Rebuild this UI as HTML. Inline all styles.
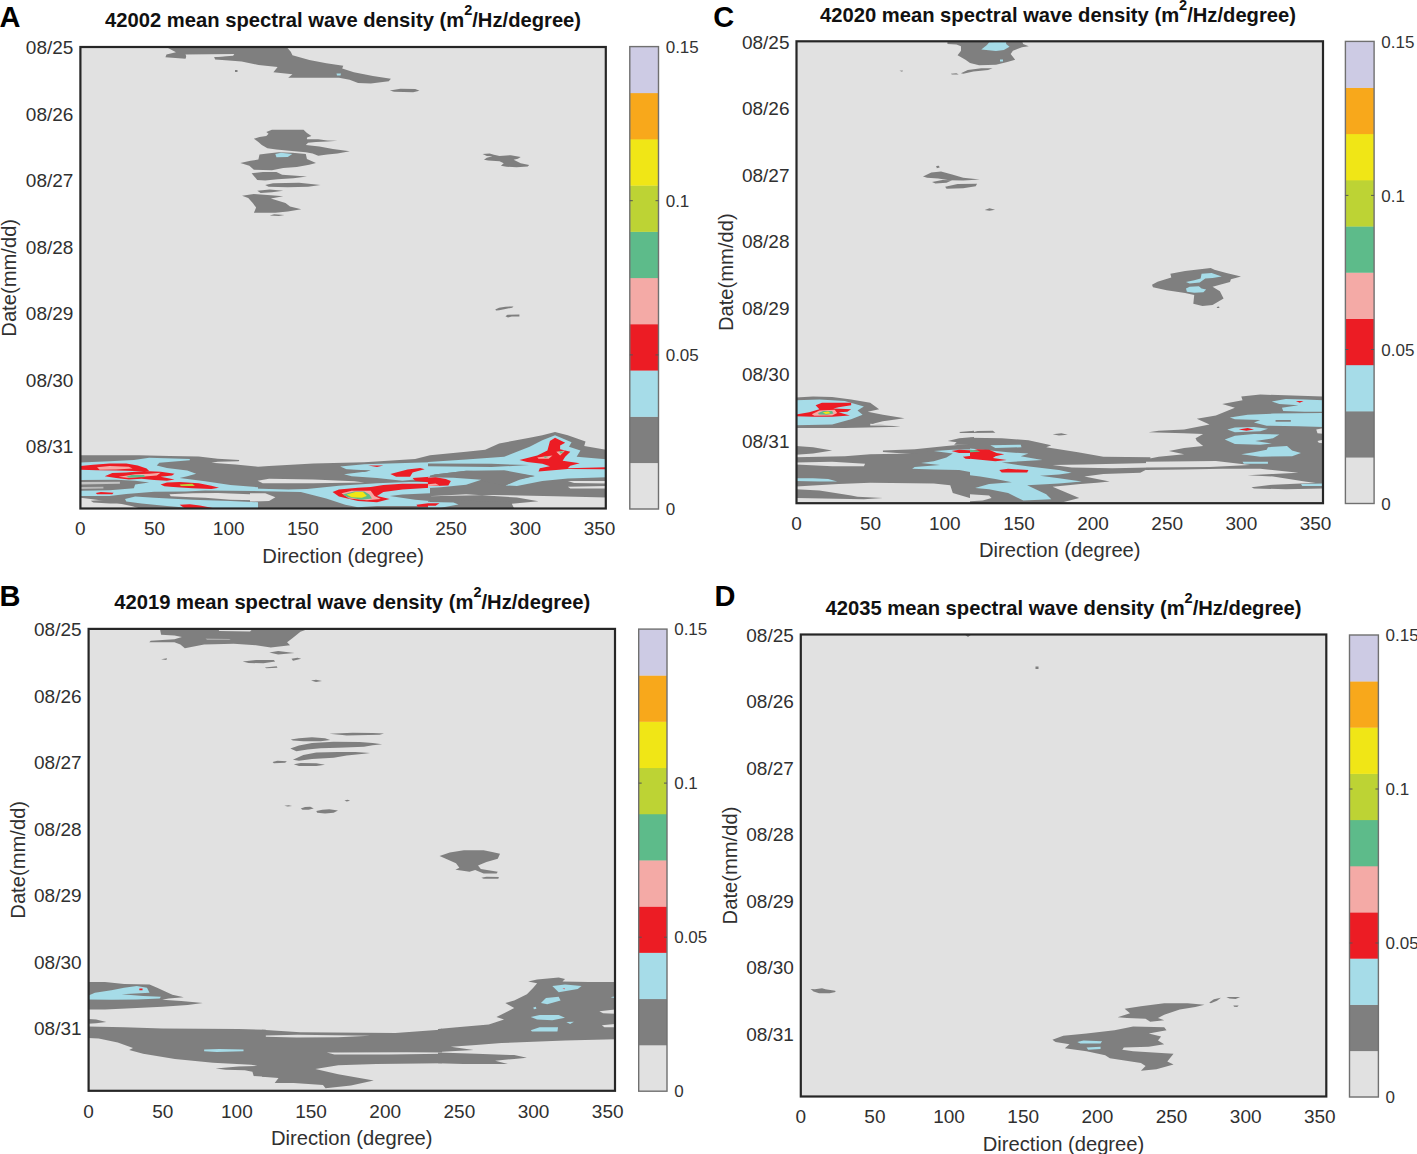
<!DOCTYPE html>
<html><head><meta charset="utf-8"><style>
html,body{margin:0;padding:0;background:#fff;width:1417px;height:1154px;overflow:hidden;position:relative}
svg text{font-family:'Liberation Sans', sans-serif}
</style></head><body>
<svg width="1417" height="1154" viewBox="0 0 1417 1154" style="position:absolute;left:0;top:0">
<rect x="80.4" y="47.0" width="525.4" height="461.5" fill="#e1e1e1"/>
<g clip-path="url(#clipA)">
<path d="M164.98,46.35 L286.09,46.35 L290.75,51.65 L292.45,55.24 L309.38,60.11 L326.32,63.29 L343.26,65.83 L342.2,68.58 L353.85,72.18 L372.9,75.99 L390.9,78.75 L388.78,81.29 L370.79,83.4 L358.08,82.98 L349.61,79.81 L339.03,77.69 L322.09,77.69 L288.21,77.69 L292.45,74.3 L273.39,72.18 L277.62,67.1 L258.57,64.98 L241.63,61.6 L228.93,60.54 L215.16,59.48 L214.11,56.94 L233.16,55.24 L186.58,55.67 L185.52,58.63 L165.41,57.36 L166.47,54.4 L175.99,52.28Z" fill="#7f7f7f"/>
<path d="M185.52,54.4 L234.22,53.97 L233.16,55.67 L216.22,56.94 L197.17,57.36 L186.58,56.94Z" fill="#e1e1e1"/>
<path d="M389.84,90.39 L400.43,88.7 L415.25,89.12 L419.48,90.82 L413.13,92.3 L394.08,91.87Z" fill="#7f7f7f"/>
<path d="M235,70 L237.5,70 L237.5,72 L235,72Z" fill="#7f7f7f"/>
<path d="M336.5,73.5 L341,73.5 L340.5,75.5 L337,75.5Z" fill="#a6dce8"/>
<path d="M266.3,131.94 L271.94,129.68 L303.56,129.68 L306.95,133.07 L311.46,135.89 L306.95,137.58 L306.95,139.28 L318.24,139.28 L327.27,140.41 L337.43,140.75 L327.27,141.54 L315.98,142.1 L308.08,142.66 L305.82,144.92 L319.37,146.62 L332.92,148.88 L349.86,151.36 L337.43,153.39 L327.27,154.52 L318.24,155.65 L312.59,153.39 L305.82,152.26 L294.53,151.13 L276.46,149.44 L267.43,148.31 L261.78,144.92 L258.39,142.1 L253.88,138.71 L259.52,137.02 L266.3,135.89 L268.55,133.63Z" fill="#7f7f7f"/>
<path d="M259.52,154.52 L267.43,153.39 L278.72,152.26 L292.27,152.83 L305.82,153.96 L306.95,159.04 L315.98,162.99 L309.21,164.68 L296.78,166.94 L283.23,168.07 L271.94,170.33 L253.88,169.77 L249.36,165.81 L240.33,162.99 L250.49,160.73 L258.39,159.6Z" fill="#7f7f7f"/>
<path d="M275.33,153.96 L280.98,152.83 L292.27,153.96 L287.75,157.01 L276.46,157.34Z" fill="#a6dce8"/>
<path d="M251.62,173.15 L262.91,172.02 L276.46,172.02 L282.1,174.85 L306.95,176.54 L293.4,178.23 L277.59,179.36 L265.17,180.49 L257.26,179.93 L253.88,175.98Z" fill="#7f7f7f"/>
<path d="M265.17,185.01 L273.07,183.32 L299.04,182.75 L320.5,185.01 L308.08,186.7 L287.75,187.27 L268.55,186.7Z" fill="#7f7f7f"/>
<path d="M257.26,190.65 L269.68,189.53 L283.23,190.65 L271.94,192.35 L260.65,192.91Z" fill="#7f7f7f"/>
<path d="M242.02,195.74 L253.88,194.04 L270.81,195.17 L283.23,196.3 L270.81,198.56 L285.49,203.08 L290.01,206.46 L301.3,209.29 L287.75,211.54 L275.33,212.67 L253.88,212.67 L256.13,207.59 L252.75,203.08 L248.23,197.99Z" fill="#7f7f7f"/>
<path d="M269.68,215.5 L274.2,214.37 L284.36,214.93 L278.72,216.06Z" fill="#7f7f7f"/>
<path d="M482.58,154.11 L489.64,153.41 L493.87,154.82 L499.52,155.88 L510.81,155.17 L520.69,156.94 L517.87,158.7 L513.63,159.76 L520.69,163.29 L529.16,165.05 L527.75,166.46 L516.46,167.17 L506.58,166.82 L500.93,165.76 L503.75,163.29 L499.52,161.17 L488.23,160.47 L483.99,159.76 L486.82,157.64 L492.46,156.23 L486.82,155.88Z" fill="#7f7f7f"/>
<path d="M495.25,309.41 L499.07,307.71 L505.42,306.65 L513.47,306.44 L512.2,307.71 L505.42,308.98 L499.07,310.25 L496.1,310.47Z" fill="#7f7f7f"/>
<path d="M505.42,316.19 L507.54,314.7 L519.41,314.49 L519.41,316.4 L511.78,316.61 L507.97,317.46Z" fill="#7f7f7f"/>
<path d="M78.0,455.24 L138.98,455.24 L169.46,455.88 L198.68,456.51 L217.74,458.8 L239.33,460.07 L238.7,461.34 L217.74,461.85 L211.38,462.87 L235.52,464.39 L258.01,466.68 L269.05,466.04 L313.52,463.5 L364.33,462.23 L415.14,459.05 L430.01,455.24 L466.11,451.76 L485.16,449.85 L499.14,443.5 L529.63,437.78 L542.33,435.24 L555.03,432.07 L567.74,435.24 L585.52,441.6 L584.25,446.04 L607.12,449.85 L607.12,511.46 L428.0,511.46 L78,510Z" fill="#7f7f7f"/>
<path d="M80.54,462.61 L109.76,461.34 L133.89,460.07 L149.14,457.78 L189.79,459.05 L189.79,460.33 L159.3,462.87 L156.76,465.41 L166.92,467.95 L187.25,470.49 L196.14,473.66 L187.25,476.2 L179.63,478.11 L205.03,481.29 L230.44,485.1 L258.01,487.26 L258.01,491.07 L205.03,490.56 L185.98,491.45 L154.22,491.83 L126.27,493.99 L109.76,495.89 L80.54,495.89Z" fill="#a6dce8"/>
<path d="M80.54,480.02 L116.11,479.63 L135.16,480.65 L149.14,482.56 L135.16,484.46 L133.89,488.27 L109.76,490.18 L80.54,490.81Z" fill="#7f7f7f"/>
<path d="M80.54,481.92 L119.92,481.67 L119.92,483.83 L80.54,484.46Z" fill="#c4c4c4"/>
<path d="M80.54,487.0 L103.41,486.75 L103.41,488.53 L80.54,488.91Z" fill="#b8b8b8"/>
<path d="M80.54,497.8 L90.7,499.07 L109.76,501.61 L131.35,506.06 L140.25,508.6 L80.54,509.23Z" fill="#e1e1e1"/>
<path d="M90.7,500.72 L109.76,499.71 L125.0,500.98 L126.27,503.52 L109.76,503.52 L93.24,502.5Z" fill="#7f7f7f"/>
<path d="M125.0,499.07 L135.16,496.53 L154.22,497.8 L192.33,499.71 L230.44,500.98 L258.01,502.25 L258.01,509.23 L205.03,509.23 L166.92,506.06 L141.52,503.52 L126.27,501.61Z" fill="#a6dce8"/>
<path d="M169.46,494.37 L192.33,493.35 L217.74,493.1 L258.01,494.62 L258.01,500.34 L230.44,499.71 L205.03,497.8 L185.98,496.91 L170.73,496.15Z" fill="#e1e1e1"/>
<path d="M80.54,466.04 L93.24,464.77 L109.76,463.5 L126.27,463.5 L137.71,465.41 L146.6,468.58 L149.14,471.12 L135.16,471.12 L116.11,470.49 L97.05,470.23 L80.54,469.85Z" fill="#ec1c24"/>
<path d="M97.05,467.31 L109.76,466.04 L128.81,466.68 L132.62,468.58 L116.11,469.47 L99.6,469.85Z" fill="#f4aaa6"/>
<path d="M104.68,476.2 L112.3,473.03 L126.27,472.39 L144.06,471.12 L160.57,471.76 L174.54,473.66 L172.0,475.57 L160.57,476.84 L166.92,478.11 L174.54,479.38 L166.92,480.65 L154.22,480.02 L141.52,478.74 L128.81,479.38 L116.11,478.11Z" fill="#ec1c24"/>
<path d="M118.65,476.84 L135.16,474.3 L149.14,473.66 L160.57,472.77 L156.76,475.57 L141.52,476.84 L128.81,478.11Z" fill="#f4aaa6"/>
<path d="M126.27,476.84 L131.35,474.93 L144.06,474.93 L145.33,477.09 L128.81,477.86Z" fill="#5dbb8a"/>
<path d="M160.57,484.46 L166.92,482.56 L179.63,481.92 L198.68,483.19 L211.38,485.73 L219.01,487.64 L211.38,488.91 L192.33,488.27 L173.27,487.0 L164.38,486.37Z" fill="#ec1c24"/>
<path d="M179.63,484.46 L192.33,483.83 L194.87,485.99 L180.9,485.99Z" fill="#bdd334"/>
<path d="M95.78,493.1 L100.87,492.08 L113.57,492.72 L112.3,494.37 L97.05,494.37Z" fill="#ec1c24"/>
<path d="M179.63,504.79 L189.79,504.15 L199.95,505.42 L212.65,507.96 L205.03,509.23 L185.98,509.23Z" fill="#ec1c24"/>
<path d="M257.62,480.65 L269.05,478.74 L313.52,479.38 L354.17,481.29 L364.33,482.56 L313.52,483.19 L262.7,483.19Z" fill="#e1e1e1"/>
<path d="M250.0,493.35 L265.24,493.35 L275.41,497.16 L269.05,500.98 L250.0,501.61Z" fill="#e1e1e1"/>
<path d="M340.19,466.42 L364.33,464.14 L430.01,462.23 L430.01,478.11 L402.44,480.65 L377.03,478.11 L351.63,476.2 L344.0,474.3 L364.33,471.76 L370.68,470.49 L346.54,469.22Z" fill="#a6dce8"/>
<path d="M345.27,469.85 L370.68,470.49 L364.33,472.01 L346.54,471.76Z" fill="#7f7f7f"/>
<path d="M250.0,488.27 L269.05,488.91 L288.11,489.54 L307.16,488.91 L338.92,485.73 L377.03,483.19 L408.79,481.92 L430.01,481.92 L430.01,493.35 L402.44,494.62 L389.74,495.89 L415.14,499.71 L430.01,500.98 L430.01,506.06 L377.03,506.06 L357.98,507.33 L345.27,504.79 L326.22,498.43 L300.81,492.08 L275.41,491.45 L250.0,490.81Z" fill="#a6dce8"/>
<path d="M390.37,474.04 L407.52,469.47 L420.22,467.95 L424.67,469.22 L412.6,472.39 L410.06,476.84 L396.09,476.84Z" fill="#ec1c24"/>
<path d="M412.6,478.11 L430.01,476.84 L430.01,482.56 L415.14,480.65Z" fill="#ec1c24"/>
<path d="M332.57,492.08 L338.92,489.54 L357.98,487.64 L370.68,487.0 L383.38,485.1 L402.44,483.83 L415.14,483.83 L430.01,483.83 L430.01,487.64 L402.44,489.54 L383.38,492.08 L377.03,495.89 L389.74,499.07 L377.03,502.25 L357.98,500.98 L338.92,496.53Z" fill="#ec1c24"/>
<path d="M341.46,493.35 L351.63,490.81 L370.68,490.81 L374.49,495.89 L380.84,499.07 L366.87,500.34 L349.09,498.43Z" fill="#f4aaa6"/>
<path d="M342.73,494.62 L354.17,491.45 L364.33,491.45 L369.41,494.62 L371.95,498.43 L361.79,499.71 L347.82,497.16Z" fill="#5dbb8a"/>
<path d="M346.54,494.62 L355.44,492.08 L363.06,492.08 L366.87,495.89 L361.79,497.8 L351.63,497.16Z" fill="#f0e616"/>
<path d="M416.41,504.79 L430.01,502.88 L430.01,506.69 L417.68,506.69Z" fill="#ec1c24"/>
<path d="M368.14,465.41 L383.38,465.41 L377.03,466.93Z" fill="#ec1c24"/>
<path d="M428.0,461.92 L466.11,459.38 L504.22,456.84 L529.63,446.68 L542.33,440.33 L555.03,435.24 L571.55,442.23 L569.01,446.68 L580.44,450.49 L576.63,456.84 L608.39,459.38 L608.39,477.16 L567.74,478.43 L542.33,480.98 L516.92,486.06 L505.49,485.42 L519.46,479.71 L534.71,475.89 L504.22,472.08 L466.11,470.81 L434.35,474.62 L428.0,475.89Z" fill="#a6dce8"/>
<path d="M428.0,463.45 L491.52,463.83 L529.63,465.1 L491.52,467.0 L428.0,466.37Z" fill="#7f7f7f"/>
<path d="M434.35,474.62 L466.11,470.81 L504.22,470.18 L534.71,475.89 L516.92,479.71 L504.22,486.06 L481.35,480.34 L466.11,477.8 L434.35,477.16Z" fill="#7f7f7f"/>
<path d="M428.0,477.16 L453.41,477.8 L481.35,479.71 L466.11,484.79 L440.7,487.33 L428.0,487.96Z" fill="#a6dce8"/>
<path d="M428.0,496.22 L466.11,494.31 L516.92,497.49 L538.52,501.3 L511.84,503.84 L514.38,508.92 L608.39,508.92 L608.39,497.49 L555.03,496.22 L491.52,494.95Z" fill="#e1e1e1"/>
<path d="M428.0,501.3 L466.11,500.67 L510.57,501.94 L511.84,503.84 L509.3,508.92 L428.0,508.92Z" fill="#7f7f7f"/>
<path d="M567.74,480.98 L605.85,480.98 L605.85,483.52 L574.09,482.88Z" fill="#e1e1e1"/>
<path d="M567.74,486.69 L605.85,486.06 L605.85,488.6 L570.28,488.6Z" fill="#e1e1e1"/>
<path d="M428.0,501.94 L453.41,502.57 L458.49,504.48 L440.7,507.65 L428.0,507.65Z" fill="#a6dce8"/>
<path d="M428.0,503.21 L439.43,503.21 L435.62,505.75 L428.0,505.75Z" fill="#ec1c24"/>
<path d="M519.46,460.02 L537.25,455.57 L547.41,450.49 L549.95,440.96 L555.03,437.78 L565.2,442.87 L560.11,445.41 L560.11,449.22 L570.28,451.76 L565.2,456.84 L562.65,460.65 L579.8,463.19 L570.28,465.73 L567.74,468.27 L608.39,467.26 L608.39,469.29 L567.74,468.91 L538.52,471.45 L539.79,468.27 L549.95,466.37 L542.33,463.83 L527.09,461.92Z" fill="#ec1c24"/>
<path d="M537.25,457.47 L552.49,455.57 L548.68,458.74 L538.52,458.74Z" fill="#f4aaa6"/>
<path d="M556.3,451.76 L565.2,450.49 L560.11,455.57Z" fill="#f4aaa6"/>
<path d="M543.6,456.2 L548.68,456.84 L544.87,458.11Z" fill="#5dbb8a"/>
<path d="M558.84,451.12 L563.92,451.76 L560.75,453.66Z" fill="#5dbb8a"/>
<path d="M428.0,477.8 L435.62,477.16 L445.78,479.07 L450.87,480.98 L448.33,485.42 L435.62,486.06 L428.0,486.06Z" fill="#ec1c24"/>
<path d="M428.0,484.15 L435.62,483.52 L439.43,485.42 L428.0,486.06Z" fill="#f4aaa6"/>
</g>
<clipPath id="clipA"><rect x="80.4" y="47.0" width="525.4" height="461.5"/></clipPath>
<rect x="80.4" y="47.0" width="525.4" height="461.5" fill="none" stroke="#262626" stroke-width="2.2"/>
<rect x="629.8" y="462.76" width="28.7" height="46.54" fill="#e1e1e1"/>
<rect x="629.8" y="416.52" width="28.7" height="46.54" fill="#7f7f7f"/>
<rect x="629.8" y="370.28" width="28.7" height="46.54" fill="#a6dce8"/>
<rect x="629.8" y="324.04" width="28.7" height="46.54" fill="#ec1c24"/>
<rect x="629.8" y="277.80" width="28.7" height="46.54" fill="#f4aaa6"/>
<rect x="629.8" y="231.56" width="28.7" height="46.54" fill="#5dbb8a"/>
<rect x="629.8" y="185.32" width="28.7" height="46.54" fill="#bdd334"/>
<rect x="629.8" y="139.08" width="28.7" height="46.54" fill="#f0e616"/>
<rect x="629.8" y="92.84" width="28.7" height="46.54" fill="#f8a81b"/>
<rect x="629.8" y="46.60" width="28.7" height="46.54" fill="#cdcbe4"/>
<rect x="629.8" y="46.6" width="28.7" height="462.4" fill="none" stroke="#707070" stroke-width="1.4"/>
<text x="665.7" y="515.2" font-size="17" fill="#333">0</text>
<line x1="655.5" x2="658.5" y1="354.9" y2="354.9" stroke="#555" stroke-width="1"/>
<line x1="629.8" x2="632.8" y1="354.9" y2="354.9" stroke="#555" stroke-width="1"/>
<text x="665.7" y="361.1" font-size="17" fill="#333">0.05</text>
<line x1="655.5" x2="658.5" y1="200.7" y2="200.7" stroke="#555" stroke-width="1"/>
<line x1="629.8" x2="632.8" y1="200.7" y2="200.7" stroke="#555" stroke-width="1"/>
<text x="665.7" y="206.9" font-size="17" fill="#333">0.1</text>
<text x="665.7" y="52.8" font-size="17" fill="#333">0.15</text>
<text x="73.4" y="54.2" font-size="19" text-anchor="end" fill="#303030">08/25</text>
<text x="73.4" y="120.7" font-size="19" text-anchor="end" fill="#303030">08/26</text>
<text x="73.4" y="187.2" font-size="19" text-anchor="end" fill="#303030">08/27</text>
<text x="73.4" y="253.7" font-size="19" text-anchor="end" fill="#303030">08/28</text>
<text x="73.4" y="320.2" font-size="19" text-anchor="end" fill="#303030">08/29</text>
<text x="73.4" y="386.7" font-size="19" text-anchor="end" fill="#303030">08/30</text>
<text x="73.4" y="453.2" font-size="19" text-anchor="end" fill="#303030">08/31</text>
<text x="80.4" y="535.3" font-size="19" text-anchor="middle" fill="#303030">0</text>
<text x="154.6" y="535.3" font-size="19" text-anchor="middle" fill="#303030">50</text>
<text x="228.7" y="535.3" font-size="19" text-anchor="middle" fill="#303030">100</text>
<text x="302.9" y="535.3" font-size="19" text-anchor="middle" fill="#303030">150</text>
<text x="377.0" y="535.3" font-size="19" text-anchor="middle" fill="#303030">200</text>
<text x="451.1" y="535.3" font-size="19" text-anchor="middle" fill="#303030">250</text>
<text x="525.3" y="535.3" font-size="19" text-anchor="middle" fill="#303030">300</text>
<text x="599.5" y="535.3" font-size="19" text-anchor="middle" fill="#303030">350</text>
<text x="343.1" y="562.5" font-size="20.2" text-anchor="middle" fill="#303030">Direction (degree)</text>
<text transform="translate(16.400000000000006,277.8) rotate(-90)" font-size="20.2" text-anchor="middle" fill="#303030">Date(mm/dd)</text>
<text x="343.1" y="27.1" text-anchor="middle" font-size="20.2" font-weight="bold" fill="#111">42002 mean spectral wave density (m<tspan font-size="14.5" dy="-12">2</tspan><tspan dy="12">/Hz/degree)</tspan></text>
<text x="-0.6" y="26.7" font-size="29" font-weight="bold" fill="#000">A</text>
<rect x="88.6" y="628.9" width="526.4" height="461.9" fill="#e1e1e1"/>
<g clip-path="url(#clipB)">
<path d="M159.64,627.41 L312.28,627.41 L300.42,631.86 L293.01,637.78 L287.08,642.23 L290.05,645.19 L270.78,647.42 L255.96,645.19 L233.73,643.71 L204.1,644.45 L184.83,648.16 L180.39,644.45 L174.46,642.23 L149.26,642.23 L150.75,640.75 L174.46,639.26 L181.87,637.04 L174.46,635.56 L161.12,634.82Z" fill="#7f7f7f"/>
<path d="M218.92,629.63 L251.52,630.08 L250.04,631.56 L218.92,631.11Z" fill="#e1e1e1"/>
<path d="M205.58,638.52 L230.77,638.97 L229.29,640.01 L207.06,640.01Z" fill="#a8a8a8"/>
<path d="M269.3,652.6 L278.19,651.12 L294.49,652.9 L278.19,654.38Z" fill="#7f7f7f"/>
<path d="M242.63,661.49 L255.96,660.01 L273.75,660.01 L275.23,661.49 L263.37,663.27 L248.55,662.98Z" fill="#7f7f7f"/>
<path d="M291.53,658.83 L297.46,657.79 L301.16,658.83 L293.01,660.75Z" fill="#7f7f7f"/>
<path d="M264.85,667.42 L276.71,666.24 L277.45,667.72 L266.34,668.16Z" fill="#7f7f7f"/>
<path d="M161.12,659.27 L167.05,658.23 L166.31,660.01Z" fill="#7f7f7f"/>
<path d="M311,680.5 L316,679.8 L322,681 L316,682Z" fill="#7f7f7f"/>
<path d="M329.32,733.86 L352.72,732.82 L372.65,733.0 L384.0,733.43 L379.58,734.73 L346.66,735.42 L342.32,734.9Z" fill="#7f7f7f"/>
<path d="M290.76,739.5 L298.99,738.2 L311.99,737.33 L324.99,738.2 L330.19,739.93 L320.66,741.23 L303.33,741.23 L292.93,740.62Z" fill="#7f7f7f"/>
<path d="M290.33,748.6 L298.99,745.56 L311.99,742.96 L333.66,741.66 L359.65,742.1 L372.65,742.96 L382.18,744.26 L372.65,745.13 L363.99,746.86 L337.99,747.73 L320.66,748.16 L307.66,749.46 L296.4,751.2Z" fill="#7f7f7f"/>
<path d="M292.93,759.86 L303.33,755.1 L316.33,752.5 L337.99,752.06 L355.32,752.06 L370.05,752.93 L363.99,753.8 L346.66,755.53 L333.66,757.69 L311.99,758.99 L298.99,760.73Z" fill="#7f7f7f"/>
<path d="M272.56,762.03 L277.33,760.73 L286.86,761.16 L285.13,762.63 L273.86,763.15Z" fill="#7f7f7f"/>
<path d="M293.8,764.19 L300.73,762.89 L316.33,763.33 L324.99,764.63 L316.33,765.93 L298.99,765.93Z" fill="#7f7f7f"/>
<path d="M284.26,805.79 L288.6,805.36 L292.06,805.96 L287.73,806.48Z" fill="#7f7f7f"/>
<path d="M300.73,808.39 L305.06,807.09 L310.26,806.66 L313.73,808.39 L308.53,809.69 L302.46,809.69Z" fill="#7f7f7f"/>
<path d="M316.33,810.99 L322.39,809.69 L329.32,809.25 L337.99,810.55 L333.66,812.72 L324.99,813.59 L317.19,812.72Z" fill="#7f7f7f"/>
<path d="M344.49,800.42 L347.52,799.72 L350.12,800.76 L346.66,801.46Z" fill="#7f7f7f"/>
<path d="M439.6,855.89 L449.76,852.5 L463.88,850.25 L483.64,850.25 L492.11,851.94 L500.02,853.63 L497.76,858.72 L486.47,862.1 L478.0,865.49 L480.82,868.88 L497.76,871.7 L496.63,873.4 L483.64,873.4 L475.17,870.01 L469.53,871.7 L461.06,870.57 L455.41,869.73 L459.36,867.75 L455.97,863.23 L446.94,859.28Z" fill="#7f7f7f"/>
<path d="M481.38,877.63 L486.47,876.78 L498.89,877.07 L498.32,878.76 L483.64,878.76Z" fill="#7f7f7f"/>
<path d="M86.0,982.07 L105.05,982.07 L124.11,983.97 L149.52,984.61 L157.14,987.78 L172.38,994.77 L183.82,997.31 L168.57,998.58 L162.22,999.85 L181.27,1001.12 L202.87,1003.03 L187.63,1004.93 L162.22,1006.84 L136.81,1008.11 L105.05,1009.38 L86.0,1009.38Z" fill="#7f7f7f"/>
<path d="M86.0,996.68 L94.89,992.87 L111.41,990.33 L124.11,987.78 L136.81,985.88 L146.98,987.78 L149.52,992.87 L121.57,994.14 L143.16,996.04 L160.95,996.68 L159.68,998.58 L136.81,999.47 L111.41,999.85 L86.0,999.47Z" fill="#a6dce8"/>
<path d="M139.35,988.42 L142.53,988.42 L142.53,990.33 L139.35,990.33Z" fill="#ec1c24"/>
<path d="M86.0,1018.91 L96.16,1019.54 L106.33,1022.08 L96.16,1023.35 L86.0,1023.99Z" fill="#7f7f7f"/>
<path d="M86.0,1026.53 L124.11,1027.16 L162.22,1028.43 L238.44,1029.07 L266.01,1029.71 L266.01,1076.71 L253.68,1076.07 L252.41,1071.63 L244.79,1070.36 L225.74,1069.72 L215.57,1068.45 L238.44,1066.54 L257.49,1065.91 L251.14,1064.64 L213.03,1062.73 L174.92,1058.92 L143.16,1053.84 L129.19,1050.03 L133.0,1048.12 L117.76,1042.41 L98.7,1038.6 L86.0,1037.96Z" fill="#7f7f7f"/>
<path d="M204.14,1049.4 L219.38,1049.01 L243.52,1049.4 L243.52,1051.3 L216.84,1051.94 L204.14,1051.3Z" fill="#a6dce8"/>
<path d="M262.0,1029.71 L300.11,1032.25 L395.38,1032.88 L439.85,1029.71 L442.01,1028.43 L442.01,1063.37 L376.33,1064.0 L338.22,1065.27 L315.35,1069.09 L338.22,1074.17 L373.79,1080.52 L350.92,1085.6 L325.52,1088.14 L322.98,1084.96 L293.76,1083.06 L274.7,1083.06 L278.51,1077.98 L262.0,1076.71Z" fill="#7f7f7f"/>
<path d="M265.81,1035.42 L297.57,1034.79 L369.98,1035.8 L338.22,1037.33 L296.3,1037.58 L265.81,1036.69Z" fill="#e1e1e1"/>
<path d="M326.79,1052.57 L338.22,1052.57 L406.82,1052.32 L442.39,1052.57 L442.39,1053.84 L389.03,1054.48 L334.41,1054.48Z" fill="#e1e1e1"/>
<path d="M438.0,1029.07 L457.05,1027.16 L488.81,1024.62 L504.06,1019.54 L496.43,1017.0 L504.06,1013.19 L514.22,1008.11 L505.33,1003.03 L514.22,1000.49 L526.92,994.14 L533.27,987.78 L537.09,983.34 L528.19,981.43 L537.09,979.53 L558.68,977.62 L565.03,978.89 L562.49,981.43 L587.9,982.07 L615.85,982.07 L615.85,1039.23 L565.03,1040.5 L501.52,1043.04 L476.11,1044.95 L450.7,1046.85 L473.57,1050.03 L450.7,1051.3 L438.0,1051.94Z" fill="#7f7f7f"/>
<path d="M438.0,1052.57 L476.11,1053.84 L514.22,1055.11 L526.92,1057.65 L514.22,1058.92 L495.16,1060.83 L507.87,1064.0 L463.41,1064.0 L438.0,1063.37Z" fill="#7f7f7f"/>
<path d="M599.33,1011.29 L615.85,1009.38 L615.85,1013.83 L603.14,1013.19Z" fill="#e1e1e1"/>
<path d="M601.87,1025.26 L615.85,1023.99 L615.85,1027.16 L604.41,1027.16Z" fill="#e1e1e1"/>
<path d="M552.33,985.88 L565.03,984.61 L581.55,985.88 L577.74,989.05 L558.68,992.23Z" fill="#a6dce8"/>
<path d="M540.9,1003.03 L545.98,997.95 L558.68,996.68 L560.59,1000.49 L547.25,1004.3Z" fill="#a6dce8"/>
<path d="M533.27,1007.47 L535.82,1006.84 L536.45,1008.74 L533.91,1009.13Z" fill="#a6dce8"/>
<path d="M530.73,1017.0 L539.63,1015.1 L558.68,1015.1 L565.03,1017.64 L552.33,1020.18 L537.09,1019.54Z" fill="#a6dce8"/>
<path d="M566.3,1022.08 L573.92,1021.83 L570.11,1023.99Z" fill="#a6dce8"/>
<path d="M530.73,1030.34 L539.63,1027.16 L558.05,1027.16 L557.41,1031.61 L532.0,1031.61Z" fill="#a6dce8"/>
<path d="M562.49,988.42 L565.03,988.42 L564.4,989.31Z" fill="#ec1c24"/>
<path d="M610.76,997.31 L615.85,996.04 L615.85,998.58Z" fill="#a6dce8"/>
</g>
<clipPath id="clipB"><rect x="88.6" y="628.9" width="526.4" height="461.9"/></clipPath>
<rect x="88.6" y="628.9" width="526.4" height="461.9" fill="none" stroke="#262626" stroke-width="2.2"/>
<rect x="638.7" y="1044.99" width="28.3" height="46.51" fill="#e1e1e1"/>
<rect x="638.7" y="998.78" width="28.3" height="46.51" fill="#7f7f7f"/>
<rect x="638.7" y="952.57" width="28.3" height="46.51" fill="#a6dce8"/>
<rect x="638.7" y="906.36" width="28.3" height="46.51" fill="#ec1c24"/>
<rect x="638.7" y="860.15" width="28.3" height="46.51" fill="#f4aaa6"/>
<rect x="638.7" y="813.94" width="28.3" height="46.51" fill="#5dbb8a"/>
<rect x="638.7" y="767.73" width="28.3" height="46.51" fill="#bdd334"/>
<rect x="638.7" y="721.52" width="28.3" height="46.51" fill="#f0e616"/>
<rect x="638.7" y="675.31" width="28.3" height="46.51" fill="#f8a81b"/>
<rect x="638.7" y="629.10" width="28.3" height="46.51" fill="#cdcbe4"/>
<rect x="638.7" y="629.1" width="28.3" height="462.1" fill="none" stroke="#707070" stroke-width="1.4"/>
<text x="674.2" y="1097.4" font-size="17" fill="#333">0</text>
<line x1="664.0" x2="667.0" y1="937.2" y2="937.2" stroke="#555" stroke-width="1"/>
<line x1="638.7" x2="641.7" y1="937.2" y2="937.2" stroke="#555" stroke-width="1"/>
<text x="674.2" y="943.4" font-size="17" fill="#333">0.05</text>
<line x1="664.0" x2="667.0" y1="783.1" y2="783.1" stroke="#555" stroke-width="1"/>
<line x1="638.7" x2="641.7" y1="783.1" y2="783.1" stroke="#555" stroke-width="1"/>
<text x="674.2" y="789.3" font-size="17" fill="#333">0.1</text>
<text x="674.2" y="635.3" font-size="17" fill="#333">0.15</text>
<text x="81.6" y="636.1" font-size="19" text-anchor="end" fill="#303030">08/25</text>
<text x="81.6" y="702.6" font-size="19" text-anchor="end" fill="#303030">08/26</text>
<text x="81.6" y="769.1" font-size="19" text-anchor="end" fill="#303030">08/27</text>
<text x="81.6" y="835.6" font-size="19" text-anchor="end" fill="#303030">08/28</text>
<text x="81.6" y="902.1" font-size="19" text-anchor="end" fill="#303030">08/29</text>
<text x="81.6" y="968.6" font-size="19" text-anchor="end" fill="#303030">08/30</text>
<text x="81.6" y="1035.1" font-size="19" text-anchor="end" fill="#303030">08/31</text>
<text x="88.6" y="1117.6" font-size="19" text-anchor="middle" fill="#303030">0</text>
<text x="162.8" y="1117.6" font-size="19" text-anchor="middle" fill="#303030">50</text>
<text x="236.9" y="1117.6" font-size="19" text-anchor="middle" fill="#303030">100</text>
<text x="311.0" y="1117.6" font-size="19" text-anchor="middle" fill="#303030">150</text>
<text x="385.2" y="1117.6" font-size="19" text-anchor="middle" fill="#303030">200</text>
<text x="459.4" y="1117.6" font-size="19" text-anchor="middle" fill="#303030">250</text>
<text x="533.5" y="1117.6" font-size="19" text-anchor="middle" fill="#303030">300</text>
<text x="607.7" y="1117.6" font-size="19" text-anchor="middle" fill="#303030">350</text>
<text x="351.8" y="1144.8" font-size="20.2" text-anchor="middle" fill="#303030">Direction (degree)</text>
<text transform="translate(24.599999999999994,859.8) rotate(-90)" font-size="20.2" text-anchor="middle" fill="#303030">Date(mm/dd)</text>
<text x="352.3" y="609.0" text-anchor="middle" font-size="20.2" font-weight="bold" fill="#111">42019 mean spectral wave density (m<tspan font-size="14.5" dy="-12">2</tspan><tspan dy="12">/Hz/degree)</tspan></text>
<text x="-0.6" y="606.1" font-size="29" font-weight="bold" fill="#000">B</text>
<rect x="796.5" y="41.3" width="526.5" height="461.9" fill="#e1e1e1"/>
<g clip-path="url(#clipC)">
<path d="M947.43,40.52 L1021.95,40.52 L1023.08,43.9 L1028.73,46.16 L1021.95,47.29 L1012.92,50.68 L1010.66,54.07 L1015.18,59.71 L1007.27,61.97 L995.98,64.79 L979.04,65.36 L970.01,63.1 L965.49,59.71 L957.59,55.2 L960.98,50.68 L960.98,46.16 L956.46,44.47 L947.43,43.9Z" fill="#7f7f7f"/>
<path d="M989.21,42.21 L1006.14,41.42 L1006.14,43.9 L1009.53,46.73 L1003.88,50.11 L995.98,50.91 L981.3,49.55 L986.95,45.03Z" fill="#a6dce8"/>
<path d="M1000,59.5 L1003,59.5 L1003,61.5 L1000,61.5Z" fill="#a6dce8"/>
<path d="M960.98,73.26 L967.75,69.88 L981.3,68.18 L992.59,68.18 L988.08,69.88 L973.4,71.57 L963.23,73.83Z" fill="#7f7f7f"/>
<path d="M950.81,73.83 L956.46,73.26 L958.72,74.39 L951.94,74.62Z" fill="#7f7f7f"/>
<path d="M922.98,176.46 L931.3,172.58 L941.01,171.61 L952.1,174.38 L963.19,177.85 L979.83,179.51 L963.19,180.62 L949.32,180.35 L938.23,178.54 L927.14,177.85Z" fill="#7f7f7f"/>
<path d="M931.99,182.01 L942.39,179.93 L952.1,180.35 L946.55,182.7 L935.46,183.4Z" fill="#7f7f7f"/>
<path d="M945.16,186.86 L957.64,184.09 L977.05,183.81 L975.67,186.17 L963.19,188.25 L946.55,188.67Z" fill="#7f7f7f"/>
<path d="M936.15,166.07 L938.93,165.65 L939.62,167.45 L936.85,168.15Z" fill="#7f7f7f"/>
<path d="M984.68,210.02 L989.53,208.35 L995.08,209.74 L989.53,210.85Z" fill="#7f7f7f"/>
<path d="M899.41,70.81 L902.88,70.54 L902.18,71.65Z" fill="#7f7f7f"/>
<path d="M1152.02,284.86 L1157.52,281.65 L1171.28,277.52 L1170.37,273.85 L1185.05,271.1 L1210.73,267.89 L1214.4,269.72 L1226.33,272.94 L1241.01,276.61 L1230.92,279.36 L1230.0,282.11 L1212.57,286.7 L1219.91,291.28 L1223.58,298.62 L1212.57,305.05 L1202.48,305.96 L1193.3,303.67 L1194.22,294.95 L1185.05,293.12 L1166.7,290.37 L1152.94,287.16Z" fill="#7f7f7f"/>
<path d="M1185.96,282.11 L1194.22,280.28 L1200.64,278.44 L1201.56,273.85 L1211.65,272.94 L1221.74,276.61 L1212.57,277.98 L1205.23,278.44 L1199.72,282.57 L1189.63,283.49Z" fill="#a6dce8"/>
<path d="M1185.96,288.53 L1189.63,286.7 L1198.81,286.24 L1201.56,288.53 L1206.15,289.45 L1203.39,292.2 L1194.22,292.66 L1186.88,291.74Z" fill="#a6dce8"/>
<path d="M1216.7,306.88 L1218.99,306.42 L1219.45,307.98 L1217.16,307.98Z" fill="#7f7f7f"/>
<path d="M794.0,397.7 L813.05,396.43 L832.11,397.07 L851.16,399.61 L870.22,402.78 L879.11,409.14 L867.68,411.68 L882.92,414.85 L904.52,418.28 L882.92,421.2 L872.76,423.74 L900.71,426.67 L844.81,427.94 L794.0,427.94Z" fill="#7f7f7f"/>
<path d="M870.22,423.74 L900.71,425.65 L870.22,425.4Z" fill="#e1e1e1"/>
<path d="M794.0,400.24 L819.41,399.61 L844.81,400.88 L863.87,406.6 L857.52,410.41 L862.6,414.85 L851.16,419.3 L832.11,424.38 L794.0,425.4Z" fill="#a6dce8"/>
<path d="M815.6,405.33 L821.95,402.78 L851.16,402.78 L851.16,405.33 L838.46,407.23 L833.38,408.5 L851.16,409.14 L847.35,411.68 L838.46,412.31 L849.89,415.49 L832.11,416.76 L813.05,416.76 L794.0,416.12 L794.0,414.85 L809.24,412.31 L819.41,409.14Z" fill="#ec1c24"/>
<path d="M811.78,414.22 L819.41,410.41 L834.65,409.77 L837.19,412.95 L832.11,415.49 L814.33,415.74Z" fill="#f4aaa6"/>
<path d="M818.14,412.95 L823.22,411.04 L832.11,411.04 L833.38,413.58 L827.03,414.85 L818.77,414.47Z" fill="#5dbb8a"/>
<path d="M822.58,412.31 L828.3,411.42 L830.84,413.2 L825.76,413.96Z" fill="#f0e616"/>
<path d="M794.0,445.98 L813.05,447.25 L832.11,450.42 L813.05,453.6 L794.0,454.87Z" fill="#7f7f7f"/>
<path d="M882.92,450.42 L914.68,449.15 L946.44,445.98 L974.01,443.43 L974.01,453.6 L914.68,454.23 L882.92,452.07Z" fill="#7f7f7f"/>
<path d="M794.0,457.41 L844.81,456.14 L870.22,454.23 L914.68,453.6 L946.44,448.52 L974.01,444.71 L974.01,499.33 L952.79,492.98 L950.25,485.36 L933.74,483.45 L870.22,482.82 L838.46,484.09 L794.0,486.63Z" fill="#7f7f7f"/>
<path d="M794.0,462.49 L832.11,461.85 L865.14,463.76 L863.87,466.3 L832.11,466.3 L794.0,464.4Z" fill="#e1e1e1"/>
<path d="M794.0,489.17 L819.41,490.44 L851.16,495.52 L857.52,496.79 L882.92,498.06 L863.87,499.33 L794.0,498.06Z" fill="#7f7f7f"/>
<path d="M947.71,440.89 L959.14,438.35 L974.01,437.08 L974.01,444.71 L954.06,444.71 L956.6,442.16Z" fill="#7f7f7f"/>
<path d="M959.14,432.0 L974.01,430.73 L974.01,433.02 L960.41,433.02Z" fill="#7f7f7f"/>
<path d="M933.74,451.06 L952.79,449.79 L974.01,449.15 L974.01,472.65 L959.14,470.11 L933.74,469.48 L912.14,468.84 L914.68,466.94 L940.09,465.03 L921.03,463.12 L933.74,461.22 L946.44,457.41 L952.79,453.6Z" fill="#a6dce8"/>
<path d="M951.52,451.06 L959.14,449.79 L974.01,450.42 L974.01,452.96 L959.14,452.96Z" fill="#ec1c24"/>
<path d="M962.95,456.77 L974.01,455.5 L974.01,459.31 L965.49,458.68Z" fill="#ec1c24"/>
<path d="M794.0,478.37 L813.05,478.37 L828.3,479.0 L837.19,481.54 L819.41,481.54 L794.0,480.91Z" fill="#a6dce8"/>
<path d="M970.0,437.72 L1001.76,438.35 L1028.43,440.26 L1051.3,445.34 L1046.22,447.25 L1077.98,452.33 L1103.38,456.77 L1150.39,457.15 L1150.39,467.57 L1140.22,472.65 L1103.38,473.92 L1084.33,476.46 L1109.74,481.54 L1097.03,482.82 L1080.52,484.09 L1052.57,486.63 L1079.25,498.06 L1058.92,503.14 L970.0,503.14Z" fill="#7f7f7f"/>
<path d="M1052.57,465.03 L1084.33,464.4 L1150.39,463.12 L1150.39,467.57 L1112.28,468.21 L1071.63,467.57Z" fill="#e1e1e1"/>
<path d="M970.0,494.25 L989.05,495.52 L991.6,498.06 L982.7,500.6 L970.0,501.23Z" fill="#e1e1e1"/>
<path d="M990.33,445.34 L1020.81,444.71 L1021.45,447.25 L995.41,447.88Z" fill="#a6dce8"/>
<path d="M970.0,448.52 L982.7,449.79 L1008.11,452.33 L1028.43,453.6 L1020.81,456.14 L1042.41,459.95 L1020.81,461.22 L1001.76,462.49 L1027.16,466.3 L1058.92,470.11 L1071.63,472.65 L1058.92,474.56 L1039.87,475.83 L1058.92,478.37 L1081.79,481.54 L1058.92,483.45 L1027.16,485.36 L1046.22,494.25 L1051.3,499.33 L1023.35,500.6 L1008.11,492.98 L989.05,489.17 L975.08,487.9 L989.05,484.09 L1011.92,482.18 L995.41,479.0 L980.16,476.46 L970.0,475.19Z" fill="#a6dce8"/>
<path d="M970.0,451.06 L977.62,449.15 L989.05,449.79 L996.68,452.96 L1004.3,454.23 L995.41,456.14 L992.87,458.04 L1006.84,459.95 L995.41,461.22 L970.0,458.68Z" fill="#ec1c24"/>
<path d="M970.0,449.79 L977.62,450.42 L980.16,451.69 L970.0,452.33Z" fill="#5dbb8a"/>
<path d="M999.22,470.11 L1008.11,468.84 L1028.43,470.11 L1027.16,472.4 L1001.76,472.4Z" fill="#ec1c24"/>
<path d="M977.62,430.99 L992.87,430.73 L995.41,432.64 L970.0,433.02Z" fill="#7f7f7f"/>
<path d="M1052.57,434.29 L1061.46,433.27 L1067.82,434.8 L1058.92,435.56Z" fill="#7f7f7f"/>
<path d="M1241.27,396.43 L1260.33,394.53 L1323.85,396.43 L1323.85,484.09 L1304.79,481.54 L1273.03,476.46 L1247.63,475.19 L1273.03,473.92 L1298.44,472.65 L1260.33,468.84 L1222.22,468.84 L1184.11,469.48 L1146.0,470.11 L1146.0,459.31 L1158.7,456.77 L1184.11,454.23 L1168.87,451.06 L1184.11,447.88 L1203.16,445.98 L1196.81,440.89 L1195.54,438.35 L1203.16,433.91 L1184.11,433.27 L1148.54,432.26 L1158.7,430.73 L1184.11,429.46 L1209.52,424.38 L1196.81,418.66 L1215.87,415.49 L1234.92,407.87 L1222.22,404.05 L1242.54,400.24Z" fill="#7f7f7f"/>
<path d="M1146.0,461.85 L1215.87,460.97 L1250.17,465.03 L1209.52,466.94 L1146.0,467.57Z" fill="#e1e1e1"/>
<path d="M1316.22,429.46 L1323.85,428.19 L1323.85,433.91 L1317.49,433.27Z" fill="#e1e1e1"/>
<path d="M1317.49,440.89 L1323.85,439.62 L1323.85,443.43 L1318.76,442.8Z" fill="#e1e1e1"/>
<path d="M1251.44,487.26 L1273.03,484.72 L1300.98,483.45 L1323.85,482.82 L1323.85,488.53 L1285.74,489.17 L1253.98,488.53Z" fill="#7f7f7f"/>
<path d="M1300.98,484.09 L1323.85,483.45 L1323.85,485.99 L1302.25,485.99Z" fill="#a6dce8"/>
<path d="M1271.76,401.51 L1285.74,398.97 L1304.79,399.61 L1323.85,400.24 L1323.85,411.68 L1304.79,411.68 L1283.2,411.04 L1281.92,407.87 L1298.44,405.33 L1279.38,404.05Z" fill="#a6dce8"/>
<path d="M1229.84,417.39 L1247.63,414.85 L1273.03,413.58 L1323.85,412.95 L1323.85,426.92 L1298.44,426.29 L1266.68,425.65 L1253.98,422.47 L1260.33,419.93 L1234.92,419.3Z" fill="#a6dce8"/>
<path d="M1275.57,419.93 L1290.82,419.93 L1290.82,421.84 L1275.57,421.84Z" fill="#7f7f7f"/>
<path d="M1227.3,429.46 L1234.92,427.56 L1253.98,426.92 L1267.95,428.83 L1260.33,431.37 L1234.92,432.26Z" fill="#a6dce8"/>
<path d="M1238.73,429.46 L1247.63,427.94 L1253.98,429.46 L1246.36,430.73Z" fill="#ec1c24"/>
<path d="M1224.76,439.62 L1234.92,435.81 L1253.98,433.91 L1279.38,434.54 L1273.03,438.35 L1255.25,440.89 L1271.76,443.43 L1260.33,444.71 L1234.92,444.07Z" fill="#a6dce8"/>
<path d="M1241.27,454.23 L1253.98,452.33 L1266.68,449.79 L1267.95,447.25 L1287.01,445.98 L1292.09,450.42 L1300.98,452.96 L1292.09,456.14 L1260.33,456.77Z" fill="#a6dce8"/>
<path d="M1242.54,461.85 L1267.95,461.85 L1267.95,463.76 L1243.82,463.76Z" fill="#a6dce8"/>
<path d="M1295.9,400.88 L1303.52,400.88 L1299.71,402.78Z" fill="#ec1c24"/>
</g>
<clipPath id="clipC"><rect x="796.5" y="41.3" width="526.5" height="461.9"/></clipPath>
<rect x="796.5" y="41.3" width="526.5" height="461.9" fill="none" stroke="#262626" stroke-width="2.2"/>
<rect x="1345.4" y="457.29" width="28.7" height="46.51" fill="#e1e1e1"/>
<rect x="1345.4" y="411.08" width="28.7" height="46.51" fill="#7f7f7f"/>
<rect x="1345.4" y="364.87" width="28.7" height="46.51" fill="#a6dce8"/>
<rect x="1345.4" y="318.66" width="28.7" height="46.51" fill="#ec1c24"/>
<rect x="1345.4" y="272.45" width="28.7" height="46.51" fill="#f4aaa6"/>
<rect x="1345.4" y="226.24" width="28.7" height="46.51" fill="#5dbb8a"/>
<rect x="1345.4" y="180.03" width="28.7" height="46.51" fill="#bdd334"/>
<rect x="1345.4" y="133.82" width="28.7" height="46.51" fill="#f0e616"/>
<rect x="1345.4" y="87.61" width="28.7" height="46.51" fill="#f8a81b"/>
<rect x="1345.4" y="41.40" width="28.7" height="46.51" fill="#cdcbe4"/>
<rect x="1345.4" y="41.4" width="28.7" height="462.1" fill="none" stroke="#707070" stroke-width="1.4"/>
<text x="1381.3" y="509.7" font-size="17" fill="#333">0</text>
<line x1="1371.1" x2="1374.1" y1="349.5" y2="349.5" stroke="#555" stroke-width="1"/>
<line x1="1345.4" x2="1348.4" y1="349.5" y2="349.5" stroke="#555" stroke-width="1"/>
<text x="1381.3" y="355.7" font-size="17" fill="#333">0.05</text>
<line x1="1371.1" x2="1374.1" y1="195.4" y2="195.4" stroke="#555" stroke-width="1"/>
<line x1="1345.4" x2="1348.4" y1="195.4" y2="195.4" stroke="#555" stroke-width="1"/>
<text x="1381.3" y="201.6" font-size="17" fill="#333">0.1</text>
<text x="1381.3" y="47.6" font-size="17" fill="#333">0.15</text>
<text x="789.5" y="48.5" font-size="19" text-anchor="end" fill="#303030">08/25</text>
<text x="789.5" y="115.0" font-size="19" text-anchor="end" fill="#303030">08/26</text>
<text x="789.5" y="181.5" font-size="19" text-anchor="end" fill="#303030">08/27</text>
<text x="789.5" y="248.0" font-size="19" text-anchor="end" fill="#303030">08/28</text>
<text x="789.5" y="314.5" font-size="19" text-anchor="end" fill="#303030">08/29</text>
<text x="789.5" y="381.0" font-size="19" text-anchor="end" fill="#303030">08/30</text>
<text x="789.5" y="447.5" font-size="19" text-anchor="end" fill="#303030">08/31</text>
<text x="796.5" y="530.0" font-size="19" text-anchor="middle" fill="#303030">0</text>
<text x="870.6" y="530.0" font-size="19" text-anchor="middle" fill="#303030">50</text>
<text x="944.8" y="530.0" font-size="19" text-anchor="middle" fill="#303030">100</text>
<text x="1019.0" y="530.0" font-size="19" text-anchor="middle" fill="#303030">150</text>
<text x="1093.1" y="530.0" font-size="19" text-anchor="middle" fill="#303030">200</text>
<text x="1167.2" y="530.0" font-size="19" text-anchor="middle" fill="#303030">250</text>
<text x="1241.4" y="530.0" font-size="19" text-anchor="middle" fill="#303030">300</text>
<text x="1315.6" y="530.0" font-size="19" text-anchor="middle" fill="#303030">350</text>
<text x="1059.8" y="557.2" font-size="20.2" text-anchor="middle" fill="#303030">Direction (degree)</text>
<text transform="translate(732.5,272.2) rotate(-90)" font-size="20.2" text-anchor="middle" fill="#303030">Date(mm/dd)</text>
<text x="1058.0" y="22" text-anchor="middle" font-size="20.2" font-weight="bold" fill="#111">42020 mean spectral wave density (m<tspan font-size="14.5" dy="-12">2</tspan><tspan dy="12">/Hz/degree)</tspan></text>
<text x="713.2" y="26.6" font-size="29" font-weight="bold" fill="#000">C</text>
<rect x="800.8" y="634.5" width="525.5" height="462.0" fill="#e1e1e1"/>
<g clip-path="url(#clipD)">
<path d="M1124.61,1008.63 L1140.92,1006.3 L1164.2,1003.2 L1187.49,1003.2 L1204.57,1004.75 L1195.26,1007.08 L1179.73,1009.41 L1164.2,1014.84 L1157.99,1017.95 L1164.2,1020.27 L1150.23,1021.83 L1145.57,1018.72 L1126.94,1017.95 L1117.63,1017.17 L1130.05,1013.29Z" fill="#7f7f7f"/>
<path d="M1209.23,1002.42 L1213.89,999.32 L1220.87,997.76 L1216.99,1000.87 L1210.78,1003.2Z" fill="#7f7f7f"/>
<path d="M1226.31,996.99 L1240.28,996.99 L1235.62,999.0 L1229.41,998.54Z" fill="#7f7f7f"/>
<path d="M1233.29,1005.53 L1238.73,1005.53 L1237.17,1007.08 L1234.07,1006.77Z" fill="#7f7f7f"/>
<path d="M1052.42,1039.68 L1063.29,1035.8 L1086.58,1033.47 L1114.52,1030.37 L1133.15,1026.49 L1164.2,1027.26 L1166.53,1030.37 L1148.68,1033.47 L1161.1,1036.58 L1157.99,1040.46 L1164.2,1044.34 L1148.68,1046.67 L1123.84,1047.44 L1122.29,1049.77 L1133.15,1051.33 L1173.52,1053.65 L1167.31,1061.42 L1173.52,1064.52 L1156.44,1069.18 L1140.92,1070.73 L1145.57,1066.08 L1140.92,1062.97 L1109.86,1058.31 L1105.21,1055.21 L1086.58,1051.33 L1064.84,1048.22 L1069.5,1044.34 L1055.53,1042.01Z" fill="#7f7f7f"/>
<path d="M1077.26,1042.01 L1083.47,1040.46 L1102.1,1041.23 L1100.55,1043.56 L1080.37,1043.56Z" fill="#a6dce8"/>
<path d="M1086.58,1047.44 L1100.55,1046.67 L1100.55,1049.0 L1088.13,1049.77Z" fill="#a6dce8"/>
<path d="M810.59,989.07 L814.83,989.28 L822.03,988.22 L825.42,989.28 L835.17,990.76 L835.59,992.03 L829.66,993.31 L819.07,993.31 L813.56,991.61Z" fill="#7f7f7f"/>
<path d="M1035.5,666.5 L1038.5,666.5 L1038.5,669 L1035.5,669Z" fill="#7f7f7f"/>
<path d="M964,634 L972,634 L968,637Z" fill="#7f7f7f"/>
</g>
<clipPath id="clipD"><rect x="800.8" y="634.5" width="525.5" height="462.0"/></clipPath>
<rect x="800.8" y="634.5" width="525.5" height="462.0" fill="none" stroke="#262626" stroke-width="2.2"/>
<rect x="1349.5" y="1050.80" width="28.9" height="46.50" fill="#e1e1e1"/>
<rect x="1349.5" y="1004.60" width="28.9" height="46.50" fill="#7f7f7f"/>
<rect x="1349.5" y="958.40" width="28.9" height="46.50" fill="#a6dce8"/>
<rect x="1349.5" y="912.20" width="28.9" height="46.50" fill="#ec1c24"/>
<rect x="1349.5" y="866.00" width="28.9" height="46.50" fill="#f4aaa6"/>
<rect x="1349.5" y="819.80" width="28.9" height="46.50" fill="#5dbb8a"/>
<rect x="1349.5" y="773.60" width="28.9" height="46.50" fill="#bdd334"/>
<rect x="1349.5" y="727.40" width="28.9" height="46.50" fill="#f0e616"/>
<rect x="1349.5" y="681.20" width="28.9" height="46.50" fill="#f8a81b"/>
<rect x="1349.5" y="635.00" width="28.9" height="46.50" fill="#cdcbe4"/>
<rect x="1349.5" y="635.0" width="28.9" height="462.0" fill="none" stroke="#707070" stroke-width="1.4"/>
<text x="1385.6000000000001" y="1103.2" font-size="17" fill="#333">0</text>
<line x1="1375.4" x2="1378.4" y1="943.0" y2="943.0" stroke="#555" stroke-width="1"/>
<line x1="1349.5" x2="1352.5" y1="943.0" y2="943.0" stroke="#555" stroke-width="1"/>
<text x="1385.6000000000001" y="949.2" font-size="17" fill="#333">0.05</text>
<line x1="1375.4" x2="1378.4" y1="789.0" y2="789.0" stroke="#555" stroke-width="1"/>
<line x1="1349.5" x2="1352.5" y1="789.0" y2="789.0" stroke="#555" stroke-width="1"/>
<text x="1385.6000000000001" y="795.2" font-size="17" fill="#333">0.1</text>
<text x="1385.6000000000001" y="641.2" font-size="17" fill="#333">0.15</text>
<text x="793.8" y="641.7" font-size="19" text-anchor="end" fill="#303030">08/25</text>
<text x="793.8" y="708.2" font-size="19" text-anchor="end" fill="#303030">08/26</text>
<text x="793.8" y="774.7" font-size="19" text-anchor="end" fill="#303030">08/27</text>
<text x="793.8" y="841.2" font-size="19" text-anchor="end" fill="#303030">08/28</text>
<text x="793.8" y="907.7" font-size="19" text-anchor="end" fill="#303030">08/29</text>
<text x="793.8" y="974.2" font-size="19" text-anchor="end" fill="#303030">08/30</text>
<text x="793.8" y="1040.7" font-size="19" text-anchor="end" fill="#303030">08/31</text>
<text x="800.8" y="1123.3" font-size="19" text-anchor="middle" fill="#303030">0</text>
<text x="874.9" y="1123.3" font-size="19" text-anchor="middle" fill="#303030">50</text>
<text x="949.1" y="1123.3" font-size="19" text-anchor="middle" fill="#303030">100</text>
<text x="1023.2" y="1123.3" font-size="19" text-anchor="middle" fill="#303030">150</text>
<text x="1097.4" y="1123.3" font-size="19" text-anchor="middle" fill="#303030">200</text>
<text x="1171.5" y="1123.3" font-size="19" text-anchor="middle" fill="#303030">250</text>
<text x="1245.7" y="1123.3" font-size="19" text-anchor="middle" fill="#303030">300</text>
<text x="1319.8" y="1123.3" font-size="19" text-anchor="middle" fill="#303030">350</text>
<text x="1063.5" y="1150.5" font-size="20.2" text-anchor="middle" fill="#303030">Direction (degree)</text>
<text transform="translate(736.8,865.5) rotate(-90)" font-size="20.2" text-anchor="middle" fill="#303030">Date(mm/dd)</text>
<text x="1063.5" y="615.3" text-anchor="middle" font-size="20.2" font-weight="bold" fill="#111">42035 mean spectral wave density (m<tspan font-size="14.5" dy="-12">2</tspan><tspan dy="12">/Hz/degree)</tspan></text>
<text x="714.6" y="606.1" font-size="29" font-weight="bold" fill="#000">D</text>
</svg>
</body></html>
